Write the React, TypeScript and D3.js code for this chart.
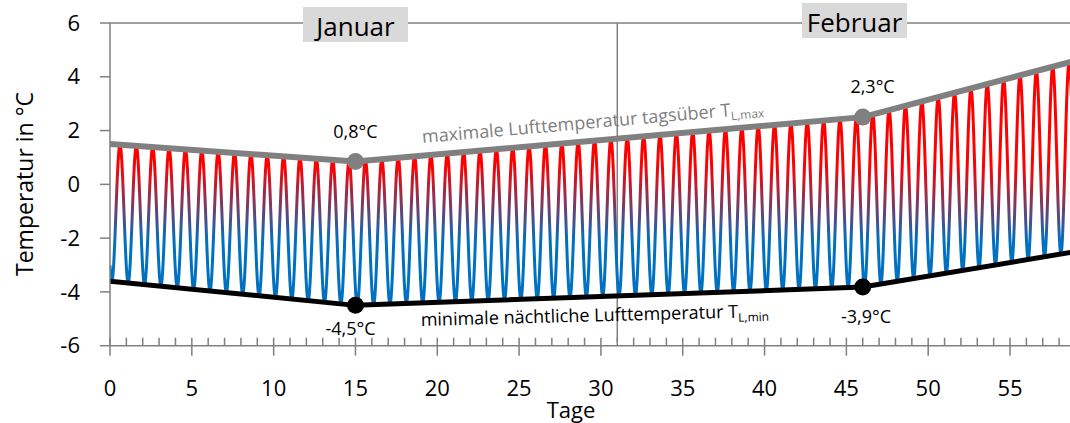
import React from 'react';
import * as d3 from 'd3';

// ---- data ----
const envelopeDays = [0, 15, 46, 59];
const maxTemps = [1.5, 0.85, 2.5, 4.6];
const minTemps = [-3.6, -4.5, -3.82, -2.5];
const markerDays = [15, 46];
const maxMarkerLabels = ['0,8°C', '2,3°C'];
const minMarkerLabels = ['-4,5°C', '-3,9°C'];
const xTickValues = [0, 5, 10, 15, 20, 25, 30, 35, 40, 45, 50, 55];
const yTickValues = [-6, -4, -2, 0, 2, 4, 6];
const monthNames = ['Januar', 'Februar'];
const monthCenters = [15, 45.5];
const monthBoundary = 31;
const troughPhase = 0.11; // fraction of a day where the daily minimum occurs

const W = 1070;
const H = 423;
const FONT = '"Open Sans", "DejaVu Sans", sans-serif';

export default function App() {
  const x = d3.scaleLinear().domain([0, 59]).range([110, 110 + 59 * 16.364]);
  const y = d3.scaleLinear().domain([-6, 6]).range([345.7, 23]);
  const maxAt = d3.scaleLinear().domain(envelopeDays).range(maxTemps);
  const minAt = d3.scaleLinear().domain(envelopeDays).range(minTemps);

  const samples: [number, number][] = [];
  const steps = 59 * 60;
  for (let i = 0; i <= steps; i++) {
    const t = (i / steps) * 59;
    const hi = maxAt(t);
    const lo = minAt(t);
    const v = (hi + lo) / 2 - ((hi - lo) / 2) * Math.cos(2 * Math.PI * (t - troughPhase));
    samples.push([t, v]);
  }
  const line = d3.line<[number, number]>().x((d) => x(d[0])).y((d) => y(d[1]));
  const oscPath = line(samples) || '';
  const maxPath = line(envelopeDays.map((d, i) => [d, maxTemps[i]] as [number, number])) || '';
  const minPath = line(envelopeDays.map((d, i) => [d, minTemps[i]] as [number, number])) || '';

  const minorTicks = d3.range(0, 60).filter((d) => d % 5 !== 0);
  const axisY = y(-6);
  const gray = '#808080';

  const maxLabelDay = 19.1;
  const maxAngle =
    (Math.atan2(y(maxTemps[2]) - y(maxTemps[1]), x(envelopeDays[2]) - x(envelopeDays[1])) * 180) / Math.PI;
  const minLabelDay = 19.0;
  const minAngle = -1.5;

  return (
    <div style={{ position: 'absolute', left: 0, top: 0 }}>
      <svg width={W} height={H} style={{ display: 'block', fontFamily: FONT }}>
        <defs>
          <clipPath id="plot">
            <rect x={110} y={0} width={W - 110} height={H} />
          </clipPath>
          <linearGradient id="tempGrad" gradientUnits="userSpaceOnUse" x1={0} x2={0} y1={y(0.7)} y2={y(-2.1)}>
            <stop offset="0" stopColor="#ff0000" />
            <stop offset="1" stopColor="#0070c0" />
          </linearGradient>
        </defs>

        <line x1={110} x2={W} y1={y(6)} y2={y(6)} stroke={gray} strokeWidth={1.5} />
        <line x1={x(monthBoundary)} x2={x(monthBoundary)} y1={y(6)} y2={axisY - 4} stroke={gray} strokeWidth={1.5} />

        <g clipPath="url(#plot)">
          <path d={oscPath} fill="none" stroke="url(#tempGrad)" strokeWidth={3} strokeLinejoin="round" />
          <path d={maxPath} fill="none" stroke={gray} strokeWidth={6} strokeLinejoin="round" />
          <path d={minPath} fill="none" stroke="#000" strokeWidth={5} strokeLinejoin="round" />
        </g>

        {markerDays.map((d, i) => (
          <g key={'m' + i}>
            <circle cx={x(d)} cy={y(maxAt(d))} r={8.5} fill={gray} />
            <circle cx={x(d)} cy={y(minAt(d))} r={8.5} fill="#000" />
          </g>
        ))}
        <text x={x(15)} y={138} textAnchor="middle" fontSize={18} fill="#000">{maxMarkerLabels[0]}</text>
        <text x={x(46.6)} y={93} textAnchor="middle" fontSize={18} fill="#000">{maxMarkerLabels[1]}</text>
        <text x={x(14.7)} y={335} textAnchor="middle" fontSize={18} fill="#000">{minMarkerLabels[0]}</text>
        <text x={x(46.2)} y={323} textAnchor="middle" fontSize={18} fill="#000">{minMarkerLabels[1]}</text>

        <text
          transform={`translate(${x(maxLabelDay)},${y(maxAt(maxLabelDay)) - 12.5}) rotate(${maxAngle})`}
          fontSize={18}
          fill={gray}
        >
          maximale Lufttemperatur tagsüber T
          <tspan fontSize={12} dy={4}>L,max</tspan>
        </text>
        <text
          transform={`translate(${x(minLabelDay)},${y(minAt(minLabelDay)) + 23}) rotate(${minAngle})`}
          fontSize={18}
          fill="#000"
        >
          minimale nächtliche Lufttemperatur T
          <tspan fontSize={12} dy={4}>L,min</tspan>
        </text>

        {monthNames.map((m, i) => {
          const cx = x(monthCenters[i]);
          const top = i === 0 ? 7 : 3;
          return (
            <g key={m}>
              <rect x={cx - 52.5} y={top} width={105} height={35} fill="#d9d9d9" />
              <text x={cx} y={top + 29} textAnchor="middle" fontSize={26} fill="#000">{m}</text>
            </g>
          );
        })}

        <line x1={110} x2={110} y1={y(6)} y2={axisY} stroke={gray} strokeWidth={1.5} />
        {yTickValues.map((v) => (
          <g key={'y' + v}>
            <line x1={100} x2={110} y1={y(v)} y2={y(v)} stroke={gray} strokeWidth={1.5} />
            <text x={80} y={y(v)} dy="0.35em" textAnchor="end" fontSize={22} fill="#000">{v}</text>
          </g>
        ))}

        <line x1={110} x2={W} y1={axisY} y2={axisY} stroke={gray} strokeWidth={1.5} />
        {minorTicks.map((d) => (
          <line key={'n' + d} x1={x(d)} x2={x(d)} y1={axisY - 8} y2={axisY} stroke={gray} strokeWidth={1.5} />
        ))}
        {xTickValues.map((d) => (
          <g key={'x' + d}>
            <line x1={x(d)} x2={x(d)} y1={axisY - 8} y2={axisY + 10} stroke={gray} strokeWidth={1.5} />
            <text x={x(d)} y={396} textAnchor="middle" fontSize={22} fill="#000">{d}</text>
          </g>
        ))}

        <text x={571} y={418} textAnchor="middle" fontSize={22} fill="#000">Tage</text>
        <text transform="translate(33,184) rotate(-90)" textAnchor="middle" fontSize={23} fill="#000">
          Temperatur in °C
        </text>
      </svg>
    </div>
  );
}
